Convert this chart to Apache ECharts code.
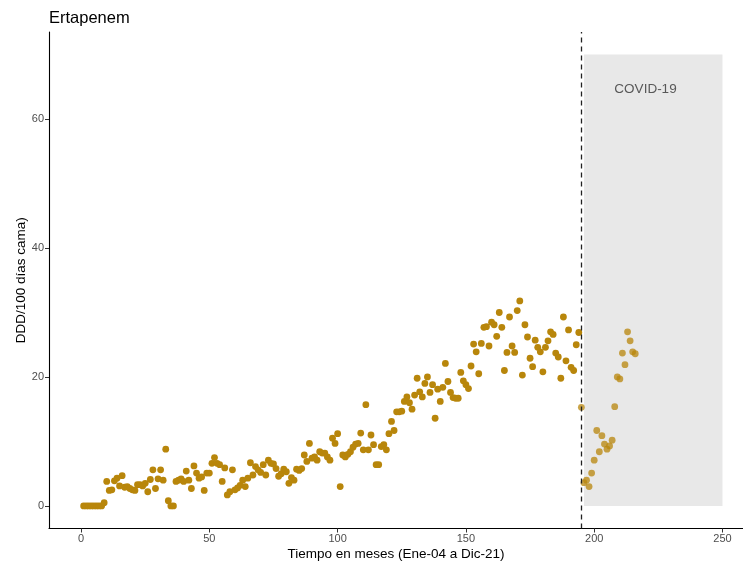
<!DOCTYPE html>
<html>
<head>
<meta charset="utf-8">
<script src="https://cdn.jsdelivr.net/npm/echarts@6/dist/echarts.min.js"></script>
<style>html,body{margin:0;padding:0;background:#fff}#c{width:743px;height:567px}</style>
</head>
<body>
<div id="c"></div>
<script>
// Months 1..194 (Jan-04 .. Feb-20), DDD/100 días cama
const preStartMonth = 1;
const preValues = [
  0,0,0,0,0,0,0,0,0.5,3.8,
  2.4,2.5,3.9,4.3,3.1,4.7,2.9,3.0,2.7,2.5,
  2.4,3.3,3.3,3.1,3.5,2.2,4.1,5.6,2.7,4.2,
  5.6,4.0,8.8,0.8,0.0,0.0,3.8,4.0,4.2,3.8,
  5.4,4.0,2.7,6.2,5.1,4.3,4.5,2.4,5.1,5.1,
  6.6,7.5,6.6,6.4,3.8,5.9,1.7,2.2,5.6,2.5,
  2.8,3.2,4.0,3.0,4.3,6.7,4.8,6.1,5.6,5.2,
  6.4,4.8,7.1,6.6,6.5,5.8,4.6,5.0,5.7,5.3,
  3.5,4.4,4.0,5.7,5.5,5.8,7.9,6.9,9.7,7.4,
  7.6,7.1,8.4,8.2,8.2,7.6,7.1,10.5,9.7,11.2,
  3.0,7.9,7.6,8.0,8.4,9.1,9.6,9.7,11.3,8.7,
  15.7,8.7,11.0,9.5,6.4,6.4,9.2,9.5,8.7,11.2,
  13.1,11.7,14.6,14.6,14.7,16.2,16.9,16.0,15.0,17.2,
  19.8,17.7,16.9,19.0,20.0,17.6,18.8,13.6,18.1,16.2,
  18.4,22.1,19.3,17.6,16.8,16.7,16.7,20.7,19.4,18.8,
  18.2,21.7,25.1,23.9,20.5,25.2,27.7,27.8,24.8,28.5,
  28.1,26.3,30.0,27.7,21.0,23.8,29.3,24.8,23.8,30.3,
  31.8,20.3,28.1,26.2,22.9,21.6,25.7,24.6,23.9,20.8,
  24.6,25.6,27.0,26.6,23.7,23.1,19.8,29.3,22.5,27.3,
  21.5,21.0,25.0,26.9
];
// Months 195..216 (COVID-19 period)
const covidStartMonth = 195;
const covidValues = [
  15.3,3.6,4.0,3.0,5.1,7.1,11.7,8.4,10.9,9.6,
  8.8,9.3,10.2,15.4,20.0,19.7,23.7,21.9,27.0,25.6,
  23.9,23.6
];
const xTicks = [0, 50, 100, 150, 200, 250];
const yTicks = [0, 20, 40, 60];
const cutMonth = 195;
const covidBox = [196, 0, 250, 70];
const covidLabel = [220, 64.6];
const covidText = 'COVID-19';

const preData = preValues.map((v, i) => [preStartMonth + i, v]);
const covidData = covidValues.map((v, i) => [covidStartMonth + i, v]);

const chart = echarts.init(document.getElementById('c'), null, {renderer: 'canvas'});
const font = 'Liberation Sans, Arial, Helvetica, sans-serif';
chart.setOption({
  animation: false,
  backgroundColor: '#fff',
  title: {
    text: 'Ertapenem', left: 44, top: 5,
    textStyle: {fontSize: 16.5, fontWeight: 'normal', color: '#000', fontFamily: font}
  },
  grid: {left: 49, right: 0, top: 32, bottom: 38.5, containLabel: false},
  xAxis: {
    type: 'value', min: -12.5, max: 258,
    name: 'Tiempo en meses (Ene-04 a Dic-21)', nameLocation: 'middle', nameGap: 19,
    nameMoveOverlap: false,
    nameTextStyle: {fontSize: 13.5, color: '#000', fontFamily: font},
    axisLine: {show: true, onZero: false, lineStyle: {color: '#000', width: 1.1}},
    axisTick: {show: true, customValues: xTicks, length: 4, lineStyle: {color: '#333'}},
    axisLabel: {customValues: xTicks, color: '#4d4d4d', fontSize: 11, margin: 5, fontFamily: font},
    splitLine: {show: false}
  },
  yAxis: {
    type: 'value', min: -3.5, max: 73.5,
    name: 'DDD/100 días cama)', nameLocation: 'middle', nameGap: 21, nameRotate: 90,
    nameMoveOverlap: false,
    nameTextStyle: {fontSize: 13.5, color: '#000', fontFamily: font},
    axisLine: {show: true, onZero: false, lineStyle: {color: '#000', width: 1.1}},
    axisTick: {show: true, customValues: yTicks, length: 4, lineStyle: {color: '#333'}},
    axisLabel: {customValues: yTicks, color: '#4d4d4d', fontSize: 11, margin: 5, fontFamily: font},
    splitLine: {show: false}
  },
  series: [
    {
      type: 'scatter', data: [], z: 1, silent: true,
      markArea: {
        silent: true,
        itemStyle: {color: '#E8E8E8'},
        data: [[{coord: [covidBox[0], covidBox[1]]}, {coord: [covidBox[2], covidBox[3]]}]]
      },
      markLine: {
        silent: true, symbol: ['none', 'none'],
        label: {show: false},
        lineStyle: {color: '#222', type: [5, 4], width: 1.3},
        data: [{xAxis: cutMonth}]
      }
    },
    {
      type: 'scatter', data: preData, z: 3, symbolSize: 6.8,
      itemStyle: {color: '#B8860B', opacity: 1}
    },
    {
      type: 'scatter', data: covidData, z: 3, symbolSize: 6.8,
      itemStyle: {color: '#B8860B', opacity: 0.75}
    },
    {
      type: 'scatter', data: [covidLabel], z: 4, symbolSize: 0,
      label: {show: true, position: 'inside', formatter: covidText, fontSize: 13.5, color: '#333', fontFamily: font}
    }
  ]
});
</script>
</body>
</html>
